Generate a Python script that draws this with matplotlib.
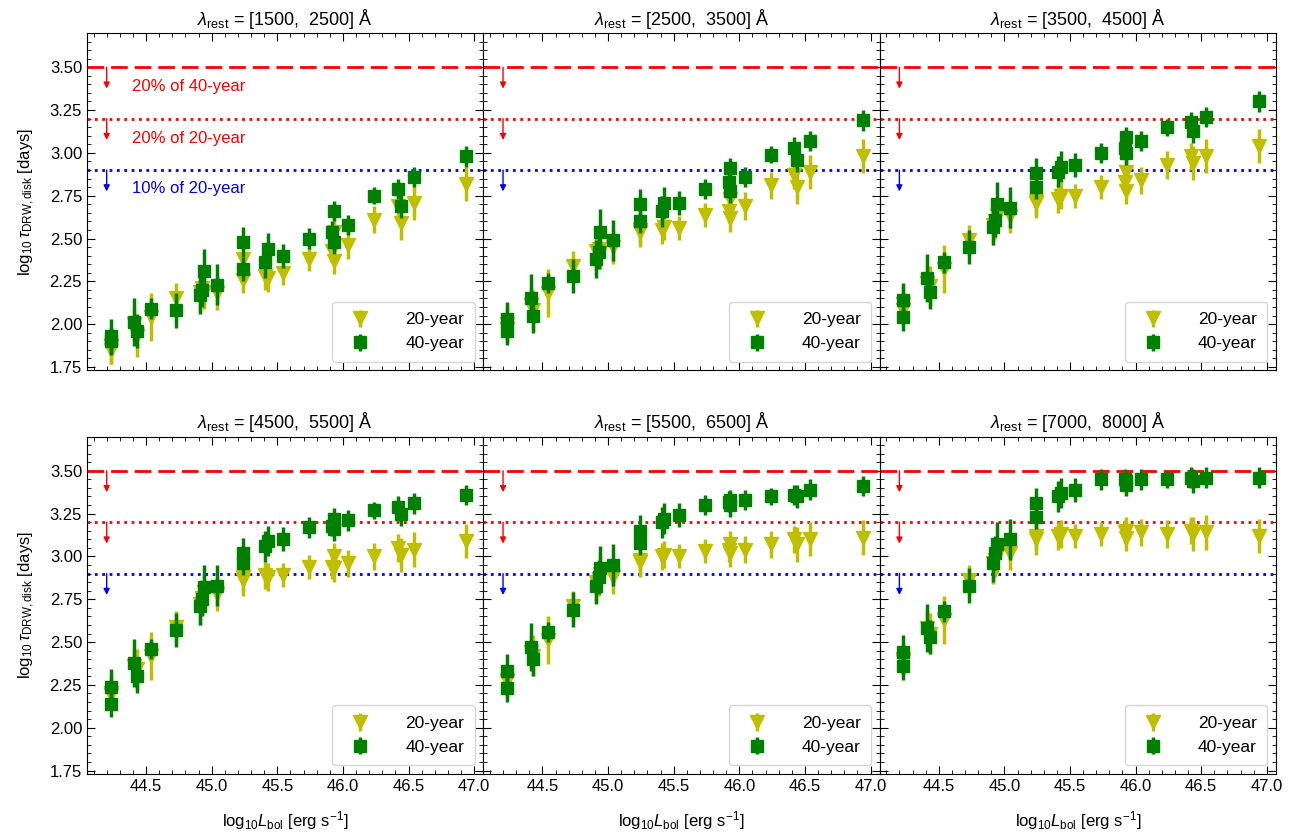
import numpy as np
import matplotlib
matplotlib.use("Agg")
import matplotlib.pyplot as plt
from matplotlib.ticker import MultipleLocator

plt.rcParams['font.family'] = ['Liberation Sans', 'DejaVu Sans']
plt.rcParams['mathtext.fontset'] = 'custom'
plt.rcParams['mathtext.rm'] = 'Liberation Sans'
plt.rcParams['mathtext.it'] = 'Liberation Sans:italic'
plt.rcParams['mathtext.bf'] = 'Liberation Sans:bold'

# bolometric luminosity of each quasar bin
lbol = [44.23, 44.23, 44.41, 44.43, 44.54, 44.73, 44.91, 44.93, 44.94, 45.04, 45.24, 45.24,
        45.41, 45.43, 45.54, 45.74, 45.92, 45.93, 45.93, 46.04, 46.24, 46.42, 46.44, 46.54, 46.94]

titles = ["[1500,  2500]", "[2500,  3500]", "[3500,  4500]",
          "[4500,  5500]", "[5500,  6500]", "[7000,  8000]"]

# log tau for 40-year and 20-year baselines, one list per wavelength window
tau40_1500 = [1.93, 1.90, 2.01, 1.96, 2.09, 2.08, 2.17, 2.20, 2.31, 2.23, 2.48, 2.32, 2.36, 2.44, 2.40, 2.50, 2.54, 2.66, 2.48, 2.58, 2.75, 2.79, 2.69, 2.86, 2.98]
tau20_1500 = [1.87, 1.85, 2.00, 1.93, 2.04, 2.15, 2.19, 2.21, 2.19, 2.18, 2.38, 2.26, 2.28, 2.27, 2.30, 2.38, 2.43, 2.54, 2.37, 2.46, 2.61, 2.69, 2.59, 2.71, 2.82]
tau40_2500 = [2.03, 1.96, 2.15, 2.05, 2.24, 2.28, 2.38, 2.42, 2.54, 2.49, 2.70, 2.60, 2.66, 2.71, 2.71, 2.79, 2.83, 2.91, 2.78, 2.86, 2.99, 3.03, 2.96, 3.07, 3.19]
tau20_2500 = [2.00, 1.97, 2.11, 2.08, 2.18, 2.34, 2.43, 2.44, 2.42, 2.45, 2.54, 2.55, 2.55, 2.57, 2.56, 2.64, 2.66, 2.73, 2.62, 2.69, 2.81, 2.87, 2.80, 2.89, 2.98]
tau40_3500 = [2.14, 2.04, 2.27, 2.19, 2.36, 2.45, 2.57, 2.61, 2.70, 2.68, 2.88, 2.80, 2.89, 2.92, 2.93, 3.00, 3.03, 3.09, 3.00, 3.07, 3.15, 3.18, 3.13, 3.21, 3.30]
tau20_3500 = [2.12, 2.08, 2.24, 2.22, 2.32, 2.49, 2.58, 2.60, 2.63, 2.63, 2.71, 2.72, 2.73, 2.75, 2.75, 2.80, 2.83, 2.89, 2.78, 2.84, 2.93, 2.98, 2.94, 2.98, 3.04]
tau40_4500 = [2.24, 2.14, 2.38, 2.30, 2.46, 2.57, 2.71, 2.75, 2.82, 2.83, 3.02, 2.96, 3.06, 3.09, 3.10, 3.17, 3.18, 3.22, 3.16, 3.21, 3.27, 3.29, 3.25, 3.31, 3.36]
tau20_4500 = [2.20, 2.19, 2.36, 2.34, 2.42, 2.59, 2.72, 2.76, 2.79, 2.78, 2.86, 2.88, 2.89, 2.88, 2.89, 2.94, 2.94, 3.00, 2.93, 2.96, 3.00, 3.05, 3.01, 3.04, 3.09]
tau40_5500 = [2.33, 2.23, 2.47, 2.40, 2.56, 2.69, 2.83, 2.88, 2.93, 2.95, 3.15, 3.08, 3.20, 3.22, 3.24, 3.30, 3.32, 3.33, 3.30, 3.33, 3.35, 3.36, 3.35, 3.39, 3.41]
tau20_5500 = [2.28, 2.27, 2.44, 2.42, 2.51, 2.71, 2.85, 2.87, 2.90, 2.88, 2.97, 2.98, 3.00, 3.01, 3.00, 3.03, 3.04, 3.07, 3.02, 3.04, 3.07, 3.10, 3.07, 3.10, 3.11]
tau40_7000 = [2.44, 2.36, 2.58, 2.53, 2.68, 2.83, 2.96, 3.02, 3.07, 3.10, 3.31, 3.23, 3.35, 3.37, 3.39, 3.45, 3.45, 3.44, 3.42, 3.45, 3.45, 3.46, 3.44, 3.46, 3.46]
tau20_7000 = [2.40, 2.39, 2.58, 2.55, 2.63, 2.86, 2.96, 2.98, 3.00, 3.02, 3.10, 3.12, 3.12, 3.13, 3.12, 3.13, 3.14, 3.15, 3.11, 3.14, 3.13, 3.15, 3.13, 3.14, 3.12]

# symmetric 1-sigma errors
err40 = [0.10, 0.08, 0.14, 0.10, 0.06, 0.10, 0.11, 0.10, 0.13, 0.12, 0.09, 0.07, 0.09, 0.09, 0.07,
         0.06, 0.06, 0.06, 0.07, 0.06, 0.05, 0.06, 0.07, 0.06, 0.06]
err20 = [0.10, 0.08, 0.10, 0.12, 0.14, 0.09, 0.12, 0.10, 0.10, 0.10, 0.09, 0.08, 0.08, 0.08, 0.07,
         0.07, 0.07, 0.08, 0.08, 0.08, 0.08, 0.08, 0.10, 0.10, 0.10]

tau40 = [tau40_1500, tau40_2500, tau40_3500, tau40_4500, tau40_5500, tau40_7000]
tau20 = [tau20_1500, tau20_2500, tau20_3500, tau20_4500, tau20_5500, tau20_7000]

# 20% of 40-year, 20% of 20-year, 10% of 20-year baselines (log days)
lim_40_20 = 3.5
lim_20_20 = 3.2
lim_20_10 = 2.9

fig, axs = plt.subplots(2, 3, figsize=(13.12, 8.39), sharex=True, sharey=True)
fig.subplots_adjust(left=0.0663, right=0.9726, top=0.9607, bottom=0.0775, wspace=0, hspace=0.196)

for i, ax in enumerate(axs.flat):
    ax.errorbar(lbol, tau20[i], yerr=err20, fmt='v', color='y', ms=10, elinewidth=2.5,
                capsize=0, label='20-year', zorder=3)
    ax.errorbar(lbol, tau40[i], yerr=err40, fmt='s', color='g', ms=8, elinewidth=2.5,
                capsize=0, label='40-year', zorder=4)

    ax.axhline(lim_40_20, color='r', ls='--', lw=2, dashes=(6, 2.5))
    ax.axhline(lim_20_20, color='r', ls=':', lw=2)
    ax.axhline(lim_20_10, color='b', ls=':', lw=2)
    for yv, c in [(lim_40_20, 'r'), (lim_20_20, 'r'), (lim_20_10, 'b')]:
        ax.annotate('', xy=(44.2, yv - 0.125), xytext=(44.2, yv),
                    arrowprops=dict(arrowstyle='-|>', color=c, lw=1, mutation_scale=9,
                                    shrinkA=0, shrinkB=0))

    ax.set_title(r"$\lambda_{\rm rest}$ = " + titles[i] + " Å", fontsize=13)
    ax.legend(loc='lower right', fontsize=12.5, borderpad=0.6, handletextpad=1.6)

    ax.set_xlim(44.05, 47.07)
    ax.set_ylim(1.73, 3.70)
    ax.xaxis.set_major_locator(MultipleLocator(0.5))
    ax.xaxis.set_minor_locator(MultipleLocator(0.1))
    ax.yaxis.set_major_locator(MultipleLocator(0.25))
    ax.yaxis.set_minor_locator(MultipleLocator(0.05))
    ax.tick_params(which='both', direction='in', top=True, right=True, labelsize=12)
    ax.tick_params(which='major', length=6)
    ax.tick_params(which='minor', length=3)
    ax.yaxis.set_major_formatter(matplotlib.ticker.FormatStrFormatter('%.2f'))
    ax.xaxis.set_major_formatter(matplotlib.ticker.FormatStrFormatter('%.1f'))

    if i % 3 == 0:
        ax.set_ylabel(r"log$_{10}\,\tau_{\rm DRW,disk}$ [days]", fontsize=12, labelpad=9)
    if i >= 3:
        ax.set_xlabel(r"log$_{10}L_{\rm bol}$ [erg s$^{-1}$]", fontsize=12, labelpad=11)

ax0 = axs[0, 0]
ax0.text(44.39, 3.39, "20% of 40-year", color='r', fontsize=12, va='center')
ax0.text(44.39, 3.085, "20% of 20-year", color='r', fontsize=12, va='center')
ax0.text(44.39, 2.79, "10% of 20-year", color='b', fontsize=12, va='center')

plt.savefig("out.png", dpi=100)
